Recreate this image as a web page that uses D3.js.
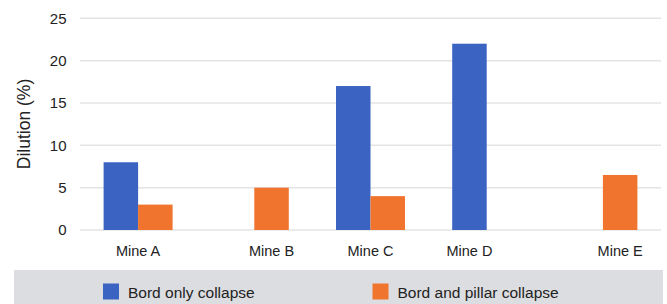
<!DOCTYPE html>
<html>
<head>
<meta charset="utf-8">
<script src="https://cdn.jsdelivr.net/npm/d3@7"></script>
<style>
  html, body { margin: 0; padding: 0; background: #fff; }
  svg { display: block; font-family: "Liberation Sans", Arial, sans-serif; }
</style>
</head>
<body>
<div id="chart"></div>
<script>
// ---- data ----
const mines = ["Mine A", "Mine B", "Mine C", "Mine D", "Mine E"];
const seriesNames = ["Bord only collapse", "Bord and pillar collapse"];
const bordOnly = [8, null, 17, 22, null];
const bordPillar = [3, 5, 4, null, 6.5];
const yTicks = [0, 5, 10, 15, 20, 25];
const colors = ["#3a63c2", "#f0742d"];

(function () {
  const W = 667, H = 304;
  const svg = d3.select("#chart").append("svg")
      .attr("width", W).attr("height", H);

  const x0 = d3.scaleBand().domain(mines).range([80, 661]);
  const barW = 34.5;
  const x1 = d3.scaleBand().domain(seriesNames)
      .range([-barW, barW]);
  const y = d3.scaleLinear().domain([0, 25]).range([230, 18.3]);

  // gridlines
  svg.append("g").selectAll("line")
    .data(yTicks)
    .join("line")
      .attr("x1", 80).attr("x2", 661)
      .attr("y1", d => y(d)).attr("y2", d => y(d))
      .attr("stroke", "#e4e4e4")
      .attr("stroke-width", 1.5);

  // y tick labels
  svg.append("g").selectAll("text")
    .data(yTicks)
    .join("text")
      .attr("x", 66.5)
      .attr("y", d => y(d))
      .attr("dy", "0.35em")
      .attr("text-anchor", "end")
      .attr("font-size", 15)
      .attr("fill", "#222")
      .text(d => d);

  // y title
  svg.append("text")
    .attr("transform", "translate(29.5,124) rotate(-90)")
    .attr("text-anchor", "middle")
    .attr("font-size", 17.5)
    .attr("fill", "#222")
    .text("Dilution (%)");

  // bars
  const rows = mines.map((m, i) => ({
    mine: m,
    vals: [bordOnly[i], bordPillar[i]]
  }));

  const groups = svg.append("g").selectAll("g")
    .data(rows)
    .join("g")
      .attr("transform", d => `translate(${x0(d.mine) + x0.bandwidth() / 2},0)`);

  groups.selectAll("rect")
    .data(d => d.vals.map((v, j) => ({ s: seriesNames[j], v, j })).filter(e => e.v != null))
    .join("rect")
      .attr("x", d => x1(d.s))
      .attr("width", x1.bandwidth())
      .attr("y", d => y(d.v))
      .attr("height", d => y(0) - y(d.v))
      .attr("fill", d => colors[d.j]);

  // category labels centred under the bars that exist
  groups.append("text")
    .attr("x", d => {
      const cs = d.vals.map((v, j) => v == null ? null : x1(seriesNames[j]) + x1.bandwidth() / 2)
        .filter(c => c != null);
      return d3.mean(cs);
    })
    .attr("y", 255.5)
    .attr("text-anchor", "middle")
    .attr("font-size", 14.5)
    .attr("fill", "#222")
    .text(d => d.mine);

  // legend
  svg.append("rect")
    .attr("x", 14).attr("y", 270)
    .attr("width", 649).attr("height", 40)
    .attr("fill", "#dcdde0");

  const legX = [103, 372.5];
  const leg = svg.append("g").selectAll("g")
    .data(seriesNames)
    .join("g")
      .attr("transform", (d, i) => `translate(${legX[i]},283.5)`);
  leg.append("rect")
    .attr("width", 16).attr("height", 16)
    .attr("fill", (d, i) => colors[i]);
  leg.append("text")
    .attr("x", 25).attr("y", 14)
    .attr("font-size", 15.5)
    .attr("fill", "#222")
    .text(d => d);
})();
</script>
</body>
</html>
